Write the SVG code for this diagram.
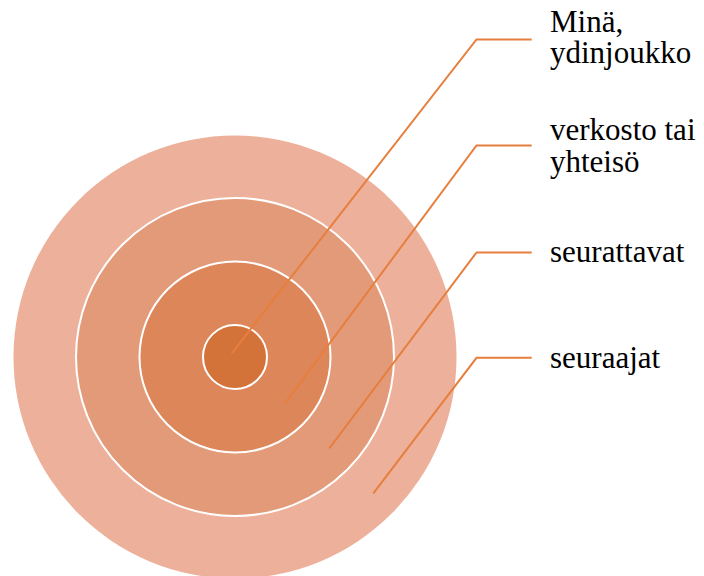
<svg xmlns="http://www.w3.org/2000/svg" width="704" height="576" viewBox="0 0 704 576">
<style>
.ring{stroke:#FFFFFF;stroke-width:2}
.conn{fill:none;stroke:#E67F3E;stroke-width:2}
</style>
<rect x="0" y="0" width="704" height="576" fill="#FFFFFF"/>
<g id="ring-seuraajat"><circle cx="235" cy="357" r="221.5" fill="#EDB09A"/></g>
<g id="ring-seurattavat"><circle class="ring" cx="235" cy="357" r="159" fill="#E39A78"/></g>
<g id="ring-verkosto"><circle class="ring" cx="235" cy="357" r="95.5" fill="#DC8659"/></g>
<g id="ring-mina"><circle class="ring" cx="235" cy="357" r="32" fill="#D3733A"/></g>
<g id="connectors">
<polyline class="conn" points="231.7,353.3 476.5,39.5 531.7,39.5"/>
<polyline class="conn" points="285,403.3 476.5,145.5 531.7,145.5"/>
<polyline class="conn" points="329.3,448.3 476.5,252.5 531.7,252.5"/>
<polyline class="conn" points="373.3,493.3 476.5,357.8 531.7,357.8"/>
</g>
<g font-family="Liberation Serif, DejaVu Serif, serif" font-size="31" fill="#000000">
<g id="label-mina"><text x="550" y="32">Minä,</text><text x="550" y="63">ydinjoukko</text></g>
<g id="label-verkosto"><text x="550" y="139.5">verkosto tai</text><text x="550" y="171.5">yhteisö</text></g>
<g id="label-seurattavat"><text x="550" y="262">seurattavat</text></g>
<g id="label-seuraajat"><text x="550" y="367.7">seuraajat</text></g>
</g>
</svg>
